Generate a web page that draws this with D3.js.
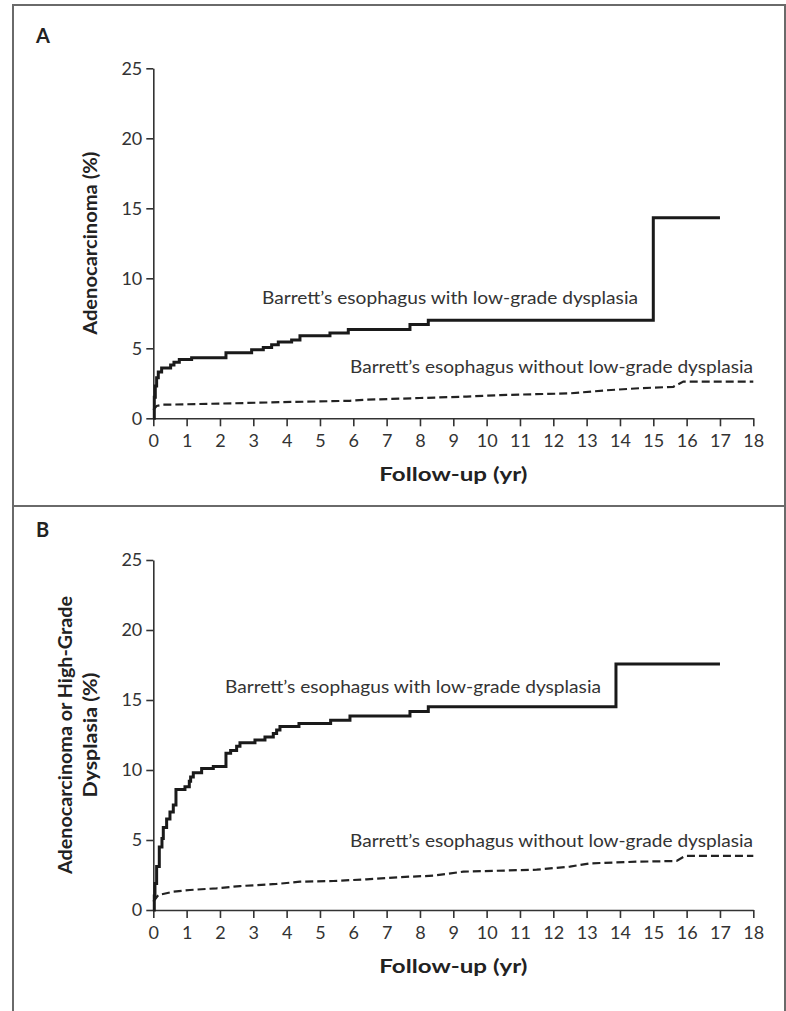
<!DOCTYPE html>
<html>
<head>
<meta charset="utf-8">
<script src="https://cdn.jsdelivr.net/npm/d3@7"></script>
<style>
  html, body { margin: 0; padding: 0; background: #fff; }
  svg { display: block; }
  text { font-family: Lato, "Open Sans", sans-serif; fill: #333; }
</style>
</head>
<body>
<svg id="chart" width="786" height="1011"></svg>
<script>
// ---- Data ----
const xTicks = [0,1,2,3,4,5,6,7,8,9,10,11,12,13,14,15,16,17,18];
const yTicks = [0,5,10,15,20,25];

// Panel A: adenocarcinoma
const aWithT = [0,0.03,0.06,0.1,0.15,0.25,0.52,0.62,0.78,1.15,2.18,2.95,3.3,3.55,3.75,4.15,4.4,5.3,5.85,7.7,8.25,15.0,17.0];
const aWithV = [0,1.5,2.3,2.9,3.3,3.6,3.8,4.0,4.2,4.33,4.69,4.9,5.05,5.25,5.45,5.6,5.9,6.1,6.35,6.7,7.0,14.33,14.33];
const aWithoutT = [0,0.1,0.3,2.0,3.8,5.9,6.3,8.0,9.4,10.4,12.5,13.6,14.6,15.6,15.9,18];
const aWithoutV = [0.6,0.88,0.97,1.05,1.15,1.25,1.32,1.45,1.55,1.66,1.78,2.0,2.15,2.25,2.62,2.62];

// Panel B: adenocarcinoma or high-grade dysplasia
const bWithT = [0,0.03,0.05,0.1,0.18,0.26,0.3,0.4,0.5,0.6,0.68,0.95,1.08,1.12,1.2,1.45,1.8,2.18,2.32,2.5,2.6,3.05,3.35,3.6,3.7,3.8,4.37,5.32,5.9,7.7,8.25,13.88,17.0];
const bWithV = [0,1.0,1.9,3.1,4.5,5.1,5.9,6.5,7.0,7.5,8.6,8.8,9.2,9.5,9.8,10.1,10.25,11.2,11.4,11.7,11.95,12.15,12.35,12.6,12.85,13.1,13.33,13.55,13.86,14.17,14.52,17.57,17.57];
const bWithoutT = [0,0.15,0.6,1.1,1.9,2.6,3.7,4.4,5.4,6.4,7.4,8.4,9.3,11.5,12.5,13.1,14.5,15.7,15.95,18];
const bWithoutV = [0.6,1.07,1.31,1.43,1.55,1.71,1.86,2.02,2.07,2.19,2.35,2.45,2.74,2.88,3.1,3.33,3.45,3.5,3.86,3.86];

const labelWith = "Barrett\u2019s esophagus with low-grade dysplasia";
const labelWithout = "Barrett\u2019s esophagus without low-grade dysplasia";
const xTitle = "Follow-up (yr)";

// ---- Drawing ----
const svg = d3.select("#chart");
const x = d3.scaleLinear().domain([0,18]).range([153.3, 753.3]);

// frame
const frame = svg.append("g").attr("stroke", "#6a6a6a").attr("stroke-width", 2).attr("fill", "none");
frame.append("line").attr("x1", 13).attr("x2", 786).attr("y1", 5).attr("y2", 5);
frame.append("line").attr("x1", 13).attr("x2", 13).attr("y1", 4).attr("y2", 1011);
frame.append("line").attr("x1", 785).attr("x2", 785).attr("y1", 4).attr("y2", 1011);
frame.append("line").attr("x1", 13).attr("x2", 786).attr("y1", 506).attr("y2", 506);

function panel(opts) {
  const y = d3.scaleLinear().domain([0,25]).range([opts.y0, opts.y0 - 350]);
  const g = svg.append("g");

  g.append("text").attr("x", 36).attr("y", opts.letterY)
    .style("font-weight", "bold").style("font-size", "20px").style("fill", "#222")
    .text(opts.letter);

  const xa = g.append("g").attr("transform", `translate(0,${opts.y0})`)
    .call(d3.axisBottom(x).tickValues(xTicks).tickSize(8).tickSizeOuter(0).tickPadding(8));
  const ya = g.append("g").attr("transform", `translate(${x(0)},0)`)
    .call(d3.axisLeft(y).tickValues(yTicks).tickSize(7).tickSizeOuter(0).tickPadding(4));
  [xa, ya].forEach(a => {
    a.selectAll("path, line").attr("stroke", "#333").attr("stroke-width", 1.6);
    a.selectAll("text").style("font-family", "Lato, sans-serif").style("font-size", "18px").attr("fill", "#333");
  });

  // axis titles
  g.append("text").attr("x", x(9)).attr("y", opts.y0 + 63)
    .attr("text-anchor", "middle").style("font-weight", "bold").style("font-size", "18px").style("fill", "#222")
    .attr("textLength", 148).attr("lengthAdjust", "spacingAndGlyphs")
    .text(xTitle);
  const yc = opts.y0 - 175;
  opts.yTitle.forEach((t, i) => {
    g.append("text").attr("transform", `translate(${opts.yTitleX[i]},${yc}) rotate(-90)`)
      .attr("text-anchor", "middle").style("font-weight", "bold").style("font-size", "18px").style("fill", "#222")
      .attr("textLength", opts.yTitleLen[i]).attr("lengthAdjust", "spacingAndGlyphs")
      .text(t);
  });

  const toPts = (T, V) => T.map((t, i) => [t, V[i]]);
  const stepLine = d3.line().x(d => x(d[0])).y(d => y(d[1])).curve(d3.curveStepAfter);
  const linLine = d3.line().x(d => x(d[0])).y(d => y(d[1])).curve(d3.curveLinear);

  g.append("path").attr("d", linLine(toPts(opts.woT, opts.woV)))
    .attr("fill", "none").attr("stroke", "#222").attr("stroke-width", 2.2).attr("stroke-dasharray", "8,4");
  g.append("path").attr("d", stepLine(toPts(opts.wT, opts.wV)))
    .attr("fill", "none").attr("stroke", "#1a1a1a").attr("stroke-width", 3).attr("stroke-linejoin", "miter");

  g.append("text").attr("x", opts.wLabel[0]).attr("y", opts.wLabel[1])
    .style("font-size", "17.5px").attr("textLength", 376).attr("lengthAdjust", "spacingAndGlyphs")
    .text(labelWith);
  g.append("text").attr("x", 350).attr("y", opts.woLabelY)
    .style("font-size", "17.5px").attr("textLength", 403).attr("lengthAdjust", "spacingAndGlyphs")
    .text(labelWithout);
}

panel({ letter: "A", letterY: 43, y0: 418.3, yTitle: ["Adenocarcinoma (%)"], yTitleX: [97], yTitleLen: [183],
  wT: aWithT, wV: aWithV, woT: aWithoutT, woV: aWithoutV, wLabel: [262, 304], woLabelY: 373 });
panel({ letter: "B", letterY: 537, y0: 910, yTitle: ["Adenocarcinoma or High-Grade", "Dysplasia (%)"], yTitleX: [72, 97], yTitleLen: [278, 125],
  wT: bWithT, wV: bWithV, woT: bWithoutT, woV: bWithoutV, wLabel: [225, 693], woLabelY: 847 });
</script>
</body>
</html>
